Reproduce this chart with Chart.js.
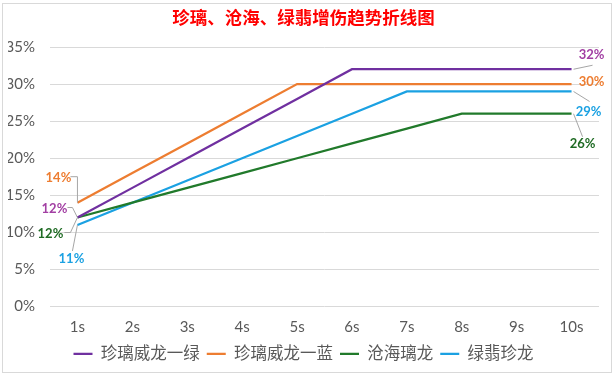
<!DOCTYPE html>
<html>
<head>
<meta charset="utf-8">
<script src="https://cdn.jsdelivr.net/npm/chart.js@4.4.1/dist/chart.umd.min.js"></script>
<style>
  html, body { margin: 0; padding: 0; background: #fff; }
  #wrap { width: 615px; height: 376px; position: relative; }
</style>
</head>
<body>
<div id="wrap"><canvas id="chart" width="615" height="376"></canvas></div>
<script>
// ==== DATA ====
const categories = ["1s", "2s", "3s", "4s", "5s", "6s", "7s", "8s", "9s", "10s"];
const seriesNames = ["珍璃威龙一绿", "珍璃威龙一蓝", "沧海璃龙", "绿翡珍龙"];
const lvGreen = [12, 16, 20, 24, 28, 32, 32, 32, 32, 32];
const lvBlue = [14, 18, 22, 26, 30, 30, 30, 30, 30, 30];
const canghai = [12, 14, 16, 18, 20, 22, 24, 26, 26, 26];
const lvfei = [11, 14, 17, 20, 23, 26, 29, 29, 29, 29];
const yTicks = [0, 5, 10, 15, 20, 25, 30, 35];

const lineColors = ["#7030A0", "#ED7D31", "#217A2B", "#1BA1E2"];
const labelColors = ["#A23FA3", "#ED7D31", "#1F6B24", "#1BA1E2"];

const FONT = "Lato, 'Noto Sans CJK SC', sans-serif";

// label offsets from the point (px) + leader line path, first and last point
const labelPlacement = [
  { first: { dx: -23, dy: -9, path: [[-10, -10], [-5, -10], [0, 0]] },
    last: { dx: 20, dy: -14, path: [[2, 0], [21, -4]] } },
  { first: { dx: -19, dy: -25, path: [[-7, -26], [0, -26], [0, 0]] },
    last: { dx: 20, dy: -2, path: null } },
  { first: { dx: -27, dy: 16, path: [[-13, 15], [-7, 15], [0, 0]] },
    last: { dx: 11, dy: 30, path: [[2, 0], [11, 23]] } },
  { first: { dx: -6, dy: 34, path: [[-5, 26], [0, 0]] },
    last: { dx: 17, dy: 20, path: [[2, 0], [18, 10]] } }
];

// outer frame
const framePlugin = {
  id: "frame",
  beforeDraw(chart) {
    const ctx = chart.ctx;
    ctx.save();
    ctx.fillStyle = "#fff";
    ctx.fillRect(0, 0, chart.width, chart.height);
    ctx.strokeStyle = "#d9d9d9";
    ctx.lineWidth = 1;
    ctx.strokeRect(2.5, 3.5, chart.width - 6, chart.height - 7);
    ctx.restore();
  }
};

// data labels with leader lines on the end points
const endLabels = {
  id: "endLabels",
  afterDatasetsDraw(chart) {
    const ctx = chart.ctx;
    ctx.save();
    ctx.font = "bold 13px " + FONT;
    ctx.textAlign = "center";
    ctx.textBaseline = "middle";
    chart.data.datasets.forEach((ds, i) => {
      const meta = chart.getDatasetMeta(i);
      const n = ds.data.length;
      [["first", 0], ["last", n - 1]].forEach(([key, idx]) => {
        const pt = meta.data[idx];
        const p = labelPlacement[i][key];
        if (p.path) {
          ctx.strokeStyle = "#a6a6a6";
          ctx.lineWidth = 1;
          ctx.beginPath();
          p.path.forEach(([x, y], k) => {
            if (k === 0) ctx.moveTo(pt.x + x, pt.y + y);
            else ctx.lineTo(pt.x + x, pt.y + y);
          });
          ctx.stroke();
        }
        ctx.fillStyle = labelColors[i];
        ctx.fillText(ds.data[idx] + "%", pt.x + p.dx, pt.y + p.dy);
      });
    });
    ctx.restore();
  }
};

const seriesData = [lvGreen, lvBlue, canghai, lvfei];

new Chart(document.getElementById("chart").getContext("2d"), {
  type: "line",
  data: {
    labels: categories,
    datasets: seriesData.map((d, i) => ({
      label: seriesNames[i],
      data: d,
      borderColor: lineColors[i],
      backgroundColor: lineColors[i],
      borderWidth: 2.25,
      pointRadius: 0,
      tension: 0,
      fill: false
    }))
  },
  options: {
    responsive: false,
    animation: false,
    layout: { padding: { left: 8, right: 16, top: 0, bottom: 4 } },
    plugins: {
      title: {
        display: true,
        text: "珍璃、沧海、绿翡增伤趋势折线图",
        color: "#FF0000",
        font: { family: FONT, size: 17.5, weight: "bold" },
        padding: { top: 8, bottom: 18 }
      },
      legend: {
        position: "bottom",
        labels: {
          usePointStyle: true,
          pointStyle: "line",
          pointStyleWidth: 19,
          color: "#595959",
          font: { family: FONT, size: 16.5 },
          padding: 7
        }
      },
      tooltip: { enabled: false }
    },
    scales: {
      x: {
        offset: true,
        afterFit(s) { s.height = 32; },
        grid: { display: false, drawTicks: false },
        border: { display: false },
        ticks: { color: "#595959", font: { family: FONT, size: 15, lineHeight: 1 }, padding: 13.5 }
      },
      y: {
        min: 0,
        max: 35,
        afterFit(s) { s.width = 42; },
        afterBuildTicks(s) { s.ticks = yTicks.map(v => ({ value: v })); },
        grid: { color: "#d9d9d9", drawTicks: false },
        border: { display: false },
        ticks: {
          color: "#595959",
          font: { family: FONT, size: 15 },
          padding: 15,
          callback: v => v + "%"
        }
      }
    }
  },
  plugins: [framePlugin, endLabels]
});
</script>
</body>
</html>
